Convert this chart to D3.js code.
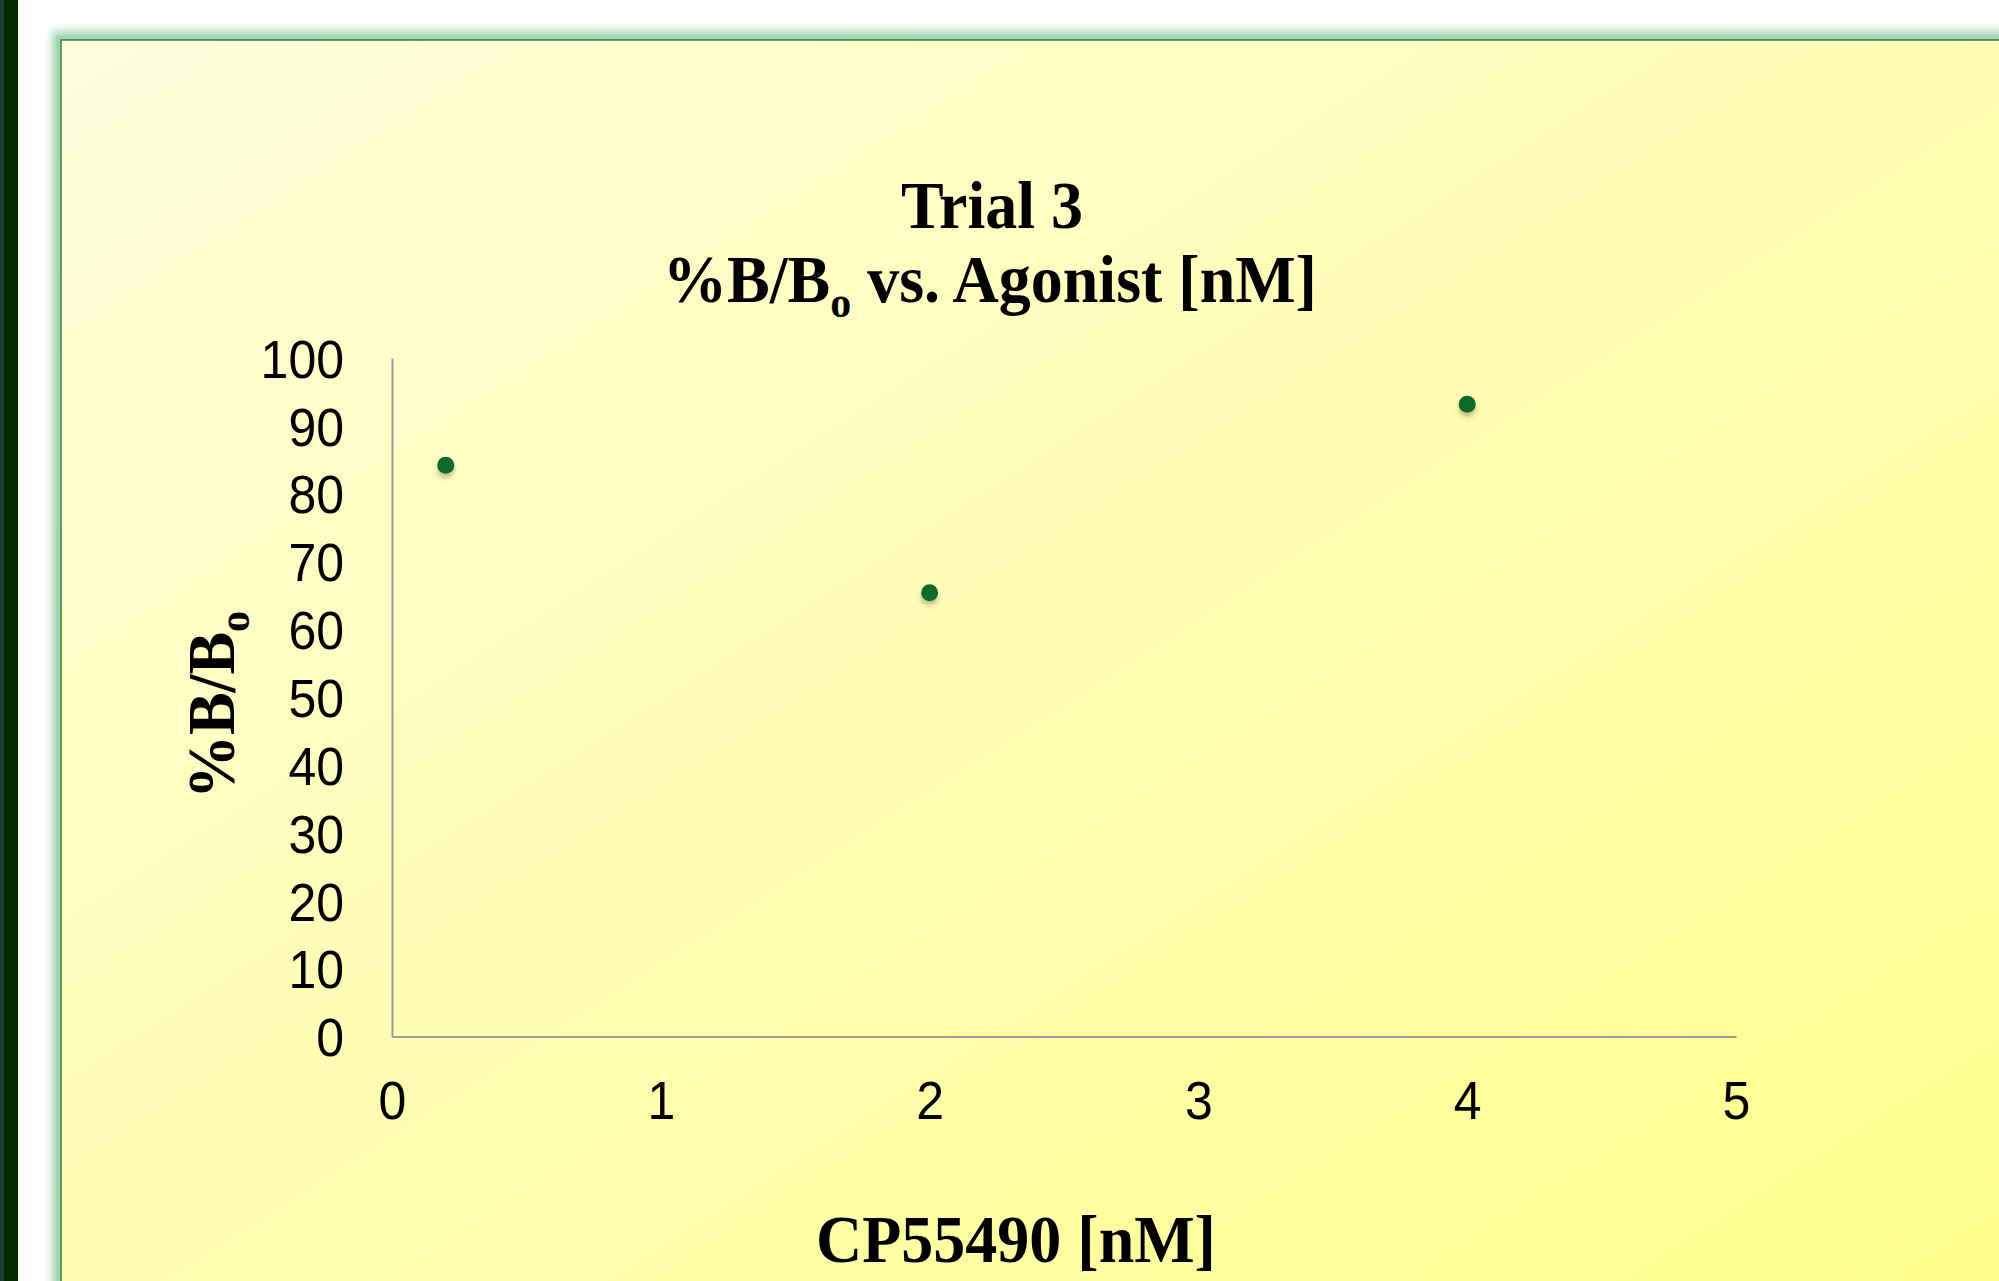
<!DOCTYPE html>
<html><head><meta charset="utf-8">
<script src="https://cdn.jsdelivr.net/npm/d3@7"></script>
<style>html,body{margin:0;padding:0;background:#fff;overflow:hidden}</style>
</head><body>
<script>
const xValues = [0.2, 2, 4];
const yValues = [84.2, 65.4, 93.2];
const xTicks = [0, 1, 2, 3, 4, 5];
const yTicks = [0, 10, 20, 30, 40, 50, 60, 70, 80, 90, 100];
const titleLine1 = "Trial 3";
const xLabel = "CP55490 [nM]";

const W = 1999, H = 1281;
const svg = d3.select("body").append("svg").attr("width", W).attr("height", H);
const defs = svg.append("defs");

const grad = defs.append("linearGradient").attr("id","bg")
  .attr("x1",0).attr("y1",0).attr("x2",1).attr("y2",1);
grad.append("stop").attr("offset","0").attr("stop-color","#fffedb");
grad.append("stop").attr("offset","0.5").attr("stop-color","#fffdb3");
grad.append("stop").attr("offset","1").attr("stop-color","#ffff8c");

const glow = defs.append("filter").attr("id","glow").attr("x","-5%").attr("y","-5%").attr("width","110%").attr("height","110%");
glow.append("feGaussianBlur").attr("stdDeviation",4);

const sh = defs.append("filter").attr("id","dshadow").attr("x","-100%").attr("y","-100%").attr("width","300%").attr("height","300%");
sh.append("feDropShadow").attr("dx",0).attr("dy",4).attr("stdDeviation",2.5).attr("flood-color","#6b6b30").attr("flood-opacity",0.45);

// left dark strip
svg.append("rect").attr("x",0).attr("y",0).attr("width",18).attr("height",H).attr("fill","#002b00");
svg.append("rect").attr("x",0).attr("y",0).attr("width",4).attr("height",H).attr("fill","#17413a");

// panel glow
svg.append("rect").attr("x",52).attr("y",31).attr("width",W).attr("height",H).attr("fill","#a3d6b4").attr("filter","url(#glow)");
svg.append("rect").attr("x",56).attr("y",35).attr("width",W).attr("height",H).attr("fill","#a3d6b4");
// panel
svg.append("rect").attr("x",61).attr("y",40).attr("width",W-61+4).attr("height",H-40+4)
  .attr("fill","url(#bg)").attr("stroke","#3f7a48").attr("stroke-width",1.5);

const x = d3.scaleLinear().domain([0,5]).range([392,1736]);
const y = d3.scaleLinear().domain([0,100]).range([1036.5,358]);

const serif = "'Liberation Serif','Times New Roman',serif";
const sans = "'Liberation Sans',Arial,sans-serif";
const stretch = 1.07;

// axes
const xAxis = svg.append("g").attr("transform",`translate(0,${y(0)})`)
  .call(d3.axisBottom(x).tickValues(xTicks).tickSize(0).tickFormat(d3.format("d")));
const yAxis = svg.append("g").attr("transform",`translate(${x(0)},0)`)
  .call(d3.axisLeft(y).tickValues(yTicks).tickSize(0).tickFormat(d3.format("d")));
[xAxis,yAxis].forEach(g=>{
  g.select(".domain").attr("stroke","#9a9a9a").attr("stroke-width",2);
  g.selectAll("text").attr("font-family",sans).attr("font-size",50).attr("fill","#000");
});
xAxis.selectAll(".tick text").attr("dy",null).attr("y",0)
  .attr("transform",`translate(0,82) scale(1,${stretch})`);
yAxis.selectAll(".tick text").attr("x",0).attr("dy","0.36em")
  .attr("transform",`translate(-48,0) scale(1,${stretch})`);

// points
svg.append("g").selectAll("circle").data(xValues.map((v,i)=>[v,yValues[i]])).join("circle")
  .attr("cx",d=>x(d[0])).attr("cy",d=>y(d[1])).attr("r",8.5)
  .attr("fill","#0b6a2c").attr("filter","url(#dshadow)");

// title
const fs = 64;
svg.append("text").attr("transform",`translate(992,228) scale(1,${stretch})`)
  .attr("text-anchor","middle").attr("font-family",serif).attr("font-weight","bold").attr("font-size",fs).text(titleLine1);
const t2 = svg.append("text").attr("transform",`translate(990,302) scale(1,${stretch})`)
  .attr("text-anchor","middle").attr("font-family",serif).attr("font-weight","bold").attr("font-size",fs);
t2.append("tspan").text("%B/B");
t2.append("tspan").attr("font-size",42).attr("dy",14).text("o");
t2.append("tspan").attr("dy",-14).text(" vs. Agonist [nM]");

// x label
svg.append("text").attr("transform",`translate(1016,1262) scale(1,${stretch})`)
  .attr("text-anchor","middle").attr("font-family",serif).attr("font-weight","bold").attr("font-size",fs).text(xLabel);

// y label
const yl = svg.append("text").attr("transform",`translate(234,705) rotate(-90) scale(1,${stretch})`)
  .attr("text-anchor","middle").attr("font-family",serif).attr("font-weight","bold").attr("font-size",fs);
yl.append("tspan").text("%B/B");
yl.append("tspan").attr("font-size",42).attr("dy",14).text("o");
</script>
</body></html>
